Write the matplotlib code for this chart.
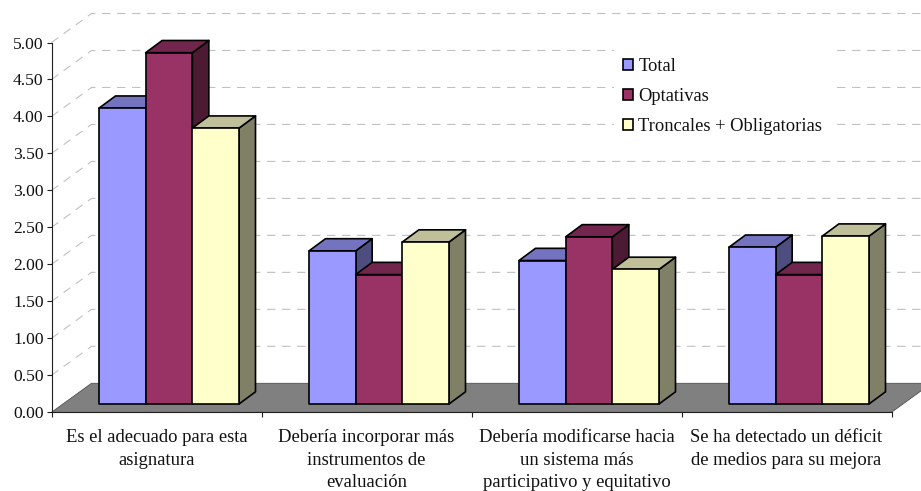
import matplotlib
matplotlib.use("Agg")
import matplotlib.pyplot as plt
from matplotlib.patches import Patch, Polygon

categories = ["Es el adecuado para esta\nasignatura",
              "Debería incorporar más\ninstrumentos de\nevaluación",
              "Debería modificarse hacia\nun sistema más\nparticipativo y equitativo",
              "Se ha detectado un déficit\nde medios para su mejora"]
series_names = ["Total", "Optativas", "Troncales + Obligatorias"]
total = [4.00, 2.07, 1.94, 2.12]
optativas = [4.75, 1.75, 2.26, 1.75]
troncales = [3.73, 2.19, 1.82, 2.27]
y_ticks = [0.0, 0.5, 1.0, 1.5, 2.0, 2.5, 3.0, 3.5, 4.0, 4.5, 5.0]

front_colors = ["#9999FF", "#993366", "#FFFFCC"]
top_colors = ["#7373BF", "#73264D", "#BFBF99"]
side_colors = ["#4D4D80", "#4D1A33", "#808066"]

W, H = 921, 491
PX_X = 210.0    # pixels per category
PX_Y = 73.96    # pixels per unit of value

# depth of the floor and of the boxes, in data units
DX, DY = 40 / PX_X, 29 / PX_Y
BOX_DX, BOX_DY = 16.5 / PX_X, 12.2 / PX_Y
BOX_Y0 = 8.3 / PX_Y
GROUP_PAD = 47.5 / PX_X
BAR_W = 140 / 3 / PX_X

plt.rcParams["font.family"] = ["Liberation Serif"]
plt.rcParams["font.size"] = 12.6

fig = plt.figure(figsize=(W / 100, H / 100), dpi=100, facecolor="white")
ax = fig.add_axes([51.5 / W, (H - 412.3) / H, 4 * PX_X / W, 5 * PX_Y / H])
ax.set_xlim(0, 4)
ax.set_ylim(0, 5)
ax.patch.set_visible(False)

# floor
n = len(categories)
ax.add_patch(Polygon([(0, 0), (n, 0), (n + DX, DY), (DX, DY)], closed=True,
                     facecolor="#808080", edgecolor="#505050", linewidth=0.6,
                     clip_on=False, zorder=1))

# wall gridlines, running back from the axis and then across
for v in y_ticks[1:]:
    ax.plot([0, DX, n + DX], [v, v + DY, v + DY], color="#C0C0C0", linewidth=0.8,
            dashes=(7.5, 6), clip_on=False, zorder=1)

z = 2
for i in range(n):
    for s, values in enumerate([total, optativas, troncales]):
        x0 = i + GROUP_PAD + s * BAR_W
        x1 = x0 + BAR_W
        y0 = BOX_Y0
        y1 = y0 + values[i]
        style = dict(closed=True, edgecolor="black", linewidth=1.2, joinstyle="round",
                     clip_on=False, zorder=z)
        ax.add_patch(Polygon([(x1, y0), (x1 + BOX_DX, y0 + BOX_DY),
                              (x1 + BOX_DX, y1 + BOX_DY), (x1, y1)],
                             facecolor=side_colors[s], **style))
        ax.add_patch(Polygon([(x0, y1), (x1, y1), (x1 + BOX_DX, y1 + BOX_DY),
                              (x0 + BOX_DX, y1 + BOX_DY)],
                             facecolor=top_colors[s], **style))
        ax.add_patch(Polygon([(x0, y0), (x1, y0), (x1, y1), (x0, y1)],
                             facecolor=front_colors[s], **style))
        z += 1

for side in ["top", "right"]:
    ax.spines[side].set_visible(False)
for side in ["left", "bottom"]:
    ax.spines[side].set_linewidth(0.8)
    ax.spines[side].set_color("#202020")
    ax.spines[side].set_zorder(z)

ax.set_yticks(y_ticks)
ax.set_yticklabels(["%.2f" % v for v in y_ticks])
ax.tick_params(axis="y", length=3.6, width=0.8, pad=2, color="#202020", labelcolor="#111111")

ax.set_xticks(range(n + 1))
ax.set_xticklabels([])
ax.tick_params(axis="x", which="major", length=3.6, width=0.8, color="#202020")
ax.set_xticks([i + 0.5 for i in range(n)], minor=True)
ax.set_xticklabels(categories, minor=True, linespacing=1.43, color="#111111", fontsize=13.4)
ax.tick_params(axis="x", which="minor", length=0, pad=12)

handles = [Patch(facecolor=c, edgecolor="black", linewidth=1.2) for c in front_colors]
leg = ax.legend(handles, series_names, loc="upper left",
                bbox_to_anchor=(613.5 / W, (H - 49) / H), bbox_transform=fig.transFigure,
                frameon=True, framealpha=1, facecolor="white", edgecolor="none",
                fancybox=False, fontsize=13.3, labelcolor="#111111",
                handlelength=0.55, handleheight=0.55, handletextpad=0.3,
                labelspacing=0.69, borderpad=0.5, borderaxespad=0)
leg.set_zorder(z + 1)

fig.savefig("out.png", dpi=100)
